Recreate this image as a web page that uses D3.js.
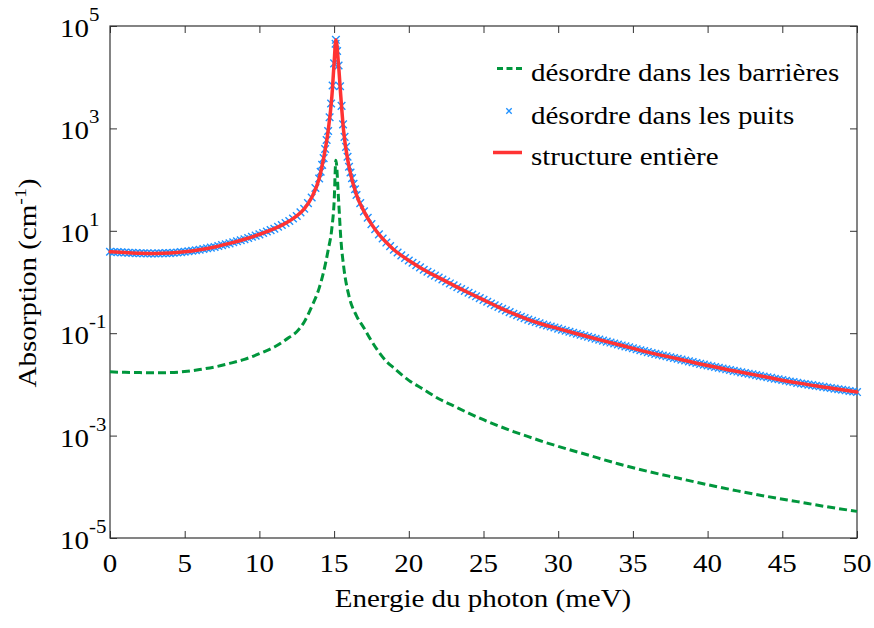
<!DOCTYPE html>
<html><head><meta charset="utf-8">
<script src="https://cdn.jsdelivr.net/npm/d3@7"></script>
<style>
body{margin:0;background:#fff}
svg{display:block}
text{font-family:"Liberation Serif","Times New Roman",serif;fill:#000}
</style>
</head><body>
<svg id="chart" width="874" height="628"></svg>
<script>
// ---------- data ----------
const energyTicks = [0,5,10,15,20,25,30,35,40,45,50];
const absorptionTicks = [1e-5,1e-3,1e-1,1e1,1e3,1e5];
const absorptionTickExponents = ["-5","-3","-1","1","3","5"];
const seriesNames = ["désordre dans les barrières","désordre dans les puits","structure entière"];
const xLabel = "Energie du photon (meV)";

// [energy (meV), absorption (cm^-1)]
const barrierDisorder = [
[0,0.0176],[1,0.0172],[2,0.0170],[3,0.0168],[4,0.0170],[5,0.0178],[6,0.0195],[7,0.0219],[8,0.0257],[9,0.0309],
[10,0.0398],[11,0.0537],[12,0.0832],[12.5,0.107],[13,0.166],[13.5,0.331],[14,0.759],[14.3,1.58],[14.6,4.17],[14.85,11.2],
[15,35.5],[15.12,240],[15.3,39.8],[15.45,7.08],[15.65,1.91],[16,0.525],[16.5,0.219],[17,0.126],[17.5,0.0708],[18,0.0427],
[18.5,0.0282],[19,0.0209],[20,0.0120],[21,0.00794],[22,0.00525],[23,0.00380],[24,0.00275],[25,0.00204],[26,0.00155],[27,0.00120],
[28,0.000955],[29,0.000759],[30,0.000617],[32,0.000417],[34,0.000282],[36,0.000200],[38,0.000148],[40,0.000110],[42,0.0000832],[44,0.0000646],
[46,0.0000513],[48,0.0000407],[50,0.0000331]
];

const wellDisorder = [
[0,3.89],[0.25,3.85],[0.5,3.83],[0.75,3.79],[1,3.76],[1.25,3.73],[1.5,3.71],[1.75,3.67],[2,3.65],[2.25,3.64],
[2.5,3.63],[2.75,3.61],[3,3.61],[3.25,3.62],[3.5,3.64],[3.75,3.66],[4,3.67],[4.25,3.72],[4.5,3.78],[4.75,3.84],
[5,3.89],[5.25,3.98],[5.5,4.07],[5.75,4.17],[6,4.27],[6.25,4.41],[6.5,4.55],[6.75,4.69],[7,4.84],[7.25,5.05],
[7.5,5.25],[7.75,5.47],[8,5.69],[8.25,5.96],[8.5,6.24],[8.75,6.53],[9,6.84],[9.25,7.23],[9.5,7.64],[9.75,8.05],
[10,8.51],[10.25,9.08],[10.5,9.66],[10.75,10.3],[11,11.0],[11.25,12.0],[11.5,13.0],[11.75,14.2],[12,15.5],[12.25,17.4],
[12.5,19.5],[12.75,22.9],[13,26.9],[13.25,34.7],[13.5,44.7],[13.75,68.4],[14,105],[14.1,142],[14.2,194],[14.3,263],
[14.4,395],[14.5,593],[14.6,891],[14.7,1650],[14.8,3060],[14.9,6870],[15,18600],[15.1,45000],[15.12,53700],[15.2,32400],
[15.3,16900],[15.4,6650],[15.5,2750],[15.6,1200],[15.7,682],[15.8,436],[15.9,279],[16,178],[16.1,138],[16.2,107],
[16.3,83.2],[16.4,64.6],[16.5,50.1],[16.75,34.7],[17,24.0],[17.25,18.0],[17.5,13.5],[17.75,10.7],[18,8.51],[18.25,7.08],
[18.5,5.89],[18.75,5.01],[19,4.27],[19.25,3.76],[19.5,3.31],[19.75,2.95],[20,2.63],[20.25,2.37],[20.5,2.14],[20.75,1.93],
[21,1.74],[21.25,1.59],[21.5,1.46],[21.75,1.33],[22,1.22],[22.25,1.12],[22.5,1.02],[22.75,0.938],[23,0.861],[23.25,0.792],
[23.5,0.728],[23.75,0.670],[24,0.617],[24.25,0.569],[24.5,0.525],[24.75,0.484],[25,0.447],[25.25,0.412],[25.5,0.380],[25.75,0.351],
[26,0.324],[26.25,0.300],[26.5,0.279],[26.75,0.258],[27,0.240],[27.25,0.224],[27.5,0.210],[27.75,0.197],[28,0.184],[28.25,0.174],
[28.5,0.165],[28.75,0.156],[29,0.148],[29.25,0.141],[29.5,0.135],[29.75,0.129],[30,0.123],[30.25,0.117],[30.5,0.112],[30.75,0.107],
[31,0.102],[31.25,0.0977],[31.5,0.0933],[31.75,0.0891],[32,0.0851],[32.25,0.0815],[32.5,0.0780],[32.75,0.0748],[33,0.0716],[33.25,0.0686],
[33.5,0.0656],[33.75,0.0630],[34,0.0603],[34.25,0.0577],[34.5,0.0552],[34.75,0.0530],[35,0.0507],[35.25,0.0485],[35.5,0.0465],[35.75,0.0446],
[36,0.0427],[36.25,0.0411],[36.5,0.0395],[36.75,0.0381],[37,0.0367],[37.25,0.0354],[37.5,0.0340],[37.75,0.0328],[38,0.0316],[38.25,0.0305],
[38.5,0.0293],[38.75,0.0282],[39,0.0272],[39.25,0.0262],[39.5,0.0252],[39.75,0.0243],[40,0.0234],[40.25,0.0226],[40.5,0.0219],[40.75,0.0211],
[41,0.0204],[41.25,0.0197],[41.5,0.0191],[41.75,0.0184],[42,0.0178],[42.25,0.0172],[42.5,0.0167],[42.75,0.0162],[43,0.0157],[43.25,0.0152],
[43.5,0.0147],[43.75,0.0143],[44,0.0138],[44.25,0.0134],[44.5,0.0129],[44.75,0.0126],[45,0.0122],[45.25,0.0118],[45.5,0.0114],[45.75,0.0111],
[46,0.0107],[46.25,0.0104],[46.5,0.0102],[46.75,0.00991],[47,0.00966],[47.25,0.00942],[47.5,0.00917],[47.75,0.00893],[48,0.00871],[48.25,0.00849],
[48.5,0.00827],[48.75,0.00805],[49,0.00785],[49.25,0.00766],[49.5,0.00745],[49.75,0.00726],[50,0.00708]
];

const wholeStructure = [
[0,3.89],[1,3.76],[2,3.65],[3,3.61],[4,3.67],[5,3.89],[6,4.27],[7,4.84],[8,5.69],[9,6.84],
[10,8.51],[11,11.0],[12,15.5],[12.5,19.5],[13,26.9],[13.5,44.7],[14,105],[14.3,263],[14.6,891],[14.85,4170],
[15,18600],[15.12,53700],[15.29,18600],[15.45,4170],[15.63,933],[16,178],[16.5,50.1],[17,24.0],[17.5,13.5],[18,8.51],
[18.5,5.89],[19,4.27],[19.5,3.31],[20,2.63],[21,1.74],[22,1.22],[23,0.861],[24,0.617],[25,0.447],[26,0.324],
[27,0.240],[28,0.184],[29,0.148],[30,0.123],[31,0.102],[32,0.0851],[34,0.0603],[36,0.0427],[38,0.0316],[40,0.0234],
[42,0.0178],[44,0.0138],[46,0.0107],[48,0.00871],[50,0.00708]
];

// ---------- layout ----------
const M = {l:110, r:857, t:26, b:538};
const SX = 1.16;            // horizontal glyph stretch of the original
const COLORS = {green:"#00963c", blue:"#1e90ff", red:"#ff3333", frame:"#333"};

const x = d3.scaleLinear().domain([0,50]).range([M.l, M.r]);
const y = d3.scaleLog().domain([1e-5,1e5]).range([M.b, M.t]);

const svg = d3.select("#chart");
svg.append("rect").attr("width",874).attr("height",628).attr("fill","#fff");

// ---------- axes (inward ticks on all four sides) ----------
function styleAxis(g){
  g.select(".domain").remove();
  g.selectAll("text").remove();
  g.selectAll(".tick line").attr("stroke",COLORS.frame).attr("stroke-width",1);
}
svg.append("g").attr("transform",`translate(0,${M.b})`)
  .call(d3.axisBottom(x).tickValues(energyTicks).tickSizeInner(-7).tickSizeOuter(0)).call(styleAxis);
svg.append("g").attr("transform",`translate(0,${M.t})`)
  .call(d3.axisTop(x).tickValues(energyTicks).tickSizeInner(-7).tickSizeOuter(0)).call(styleAxis);
svg.append("g").attr("transform",`translate(${M.l},0)`)
  .call(d3.axisLeft(y).tickValues(absorptionTicks).tickSizeInner(-7).tickSizeOuter(0)).call(styleAxis);
svg.append("g").attr("transform",`translate(${M.r},0)`)
  .call(d3.axisRight(y).tickValues(absorptionTicks).tickSizeInner(-7).tickSizeOuter(0)).call(styleAxis);

// frame
svg.append("rect").attr("x",M.l).attr("y",M.t).attr("width",M.r-M.l).attr("height",M.b-M.t)
  .attr("fill","none").attr("stroke",COLORS.frame).attr("stroke-width",1.2);

// tick labels
svg.append("g").selectAll("text").data(energyTicks).join("text")
  .attr("transform",d=>`translate(${x(d)},572) scale(${SX},1)`)
  .attr("text-anchor","middle").attr("font-size",25).text(d=>d);

const yl = svg.append("g").selectAll("text").data(absorptionTicks).join("text")
  .attr("transform",d=>`translate(60,${y(d)+11}) scale(${SX},1)`)
  .attr("font-size",25);
yl.append("tspan").text("10");
yl.append("tspan").attr("font-size",18).attr("dy",-16).text((d,i)=>absorptionTickExponents[i]);

// axis titles
svg.append("text").attr("transform",`translate(483,607) scale(${SX},1)`)
  .attr("text-anchor","middle").attr("font-size",25).text(xLabel);
const yt = svg.append("text").attr("transform",`translate(36,283) rotate(-90) scale(${SX},1)`)
  .attr("text-anchor","middle").attr("font-size",25);
yt.append("tspan").text("Absorption (cm");
yt.append("tspan").attr("font-size",17).attr("dy",-10).text("-1");
yt.append("tspan").attr("dy",10).text(")");

// ---------- series ----------
const line = d3.line().x(d=>x(d[0])).y(d=>y(d[1])).curve(d3.curveMonotoneX);

svg.append("path").datum(barrierDisorder).attr("d",line)
  .attr("fill","none").attr("stroke",COLORS.green).attr("stroke-width",3)
  .attr("stroke-dasharray","8,4");

const cross = "M-3.8,-3.8L3.8,3.8M-3.8,3.8L3.8,-3.8";
svg.append("g").selectAll("path").data(wellDisorder).join("path")
  .attr("transform",d=>`translate(${x(d[0])},${y(d[1])})`)
  .attr("d",cross).attr("stroke",COLORS.blue).attr("stroke-width",1.4).attr("fill","none");

svg.append("path").datum(wholeStructure).attr("d",line)
  .attr("fill","none").attr("stroke",COLORS.red).attr("stroke-width",3.5)
  .attr("stroke-linejoin","round").attr("stroke-linecap","round");

// ---------- legend ----------
const lg = svg.append("g");
const rows = [81,123.5,165];
lg.append("line").attr("x1",497).attr("x2",522).attr("y1",rows[0]-12.5).attr("y2",rows[0]-12.5)
  .attr("stroke",COLORS.green).attr("stroke-width",3).attr("stroke-dasharray","6,3.5");
lg.append("path").attr("transform",`translate(509,${rows[1]-12.5})`).attr("d","M-2.7,-2.7L2.7,2.7M-2.7,2.7L2.7,-2.7")
  .attr("stroke",COLORS.blue).attr("stroke-width",1.3).attr("fill","none");
lg.append("line").attr("x1",493).attr("x2",522).attr("y1",rows[2]-12.5).attr("y2",rows[2]-12.5)
  .attr("stroke",COLORS.red).attr("stroke-width",3.5);
lg.selectAll("text").data(seriesNames).join("text")
  .attr("transform",(d,i)=>`translate(531,${rows[i]}) scale(${SX},1)`)
  .attr("font-size",25).text(d=>d);
</script>
</body></html>
